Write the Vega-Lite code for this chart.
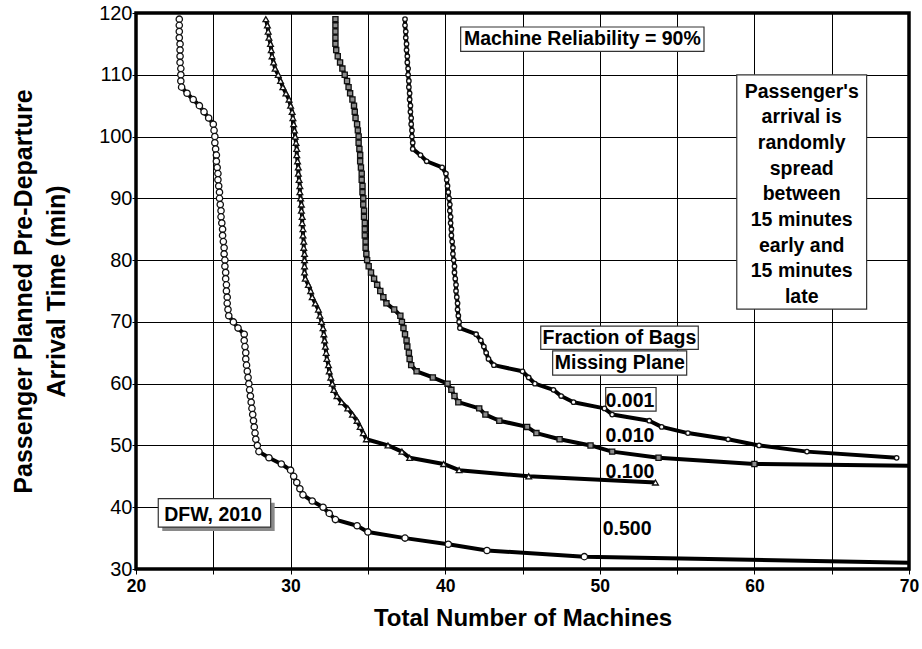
{
  "$schema": "https://vega.github.io/schema/vega-lite/v6.json",
  "autosize": {"type": "none"},
  "padding": {"left": 136, "top": 13, "right": 13, "bottom": 80},
  "width": 773,
  "height": 556,
  "background": "white",
  "config": {
    "font": "Liberation Sans",
    "view": {"stroke": "black", "strokeWidth": 3.5},
    "axis": {"grid": true, "gridColor": "black", "gridOpacity": 1, "gridWidth": 1, "domain": false, "tickColor": "black", "tickSize": 5, "labelColor": "black", "titleColor": "black", "labelFlush": false, "labelOverlap": false}
  },
  "datasets": {
    "curves": [
      {"s":"0.500","x":22.8,"y":119},{"s":"0.500","x":22.8,"y":118},{"s":"0.500","x":22.8,"y":117},{"s":"0.500","x":22.8,"y":116},{"s":"0.500","x":22.85,"y":115},{"s":"0.500","x":22.85,"y":114},{"s":"0.500","x":22.85,"y":113},{"s":"0.500","x":22.85,"y":112},{"s":"0.500","x":22.9,"y":111},{"s":"0.500","x":22.9,"y":110},{"s":"0.500","x":22.9,"y":109},{"s":"0.500","x":22.95,"y":108},{"s":"0.500","x":23.3,"y":107},{"s":"0.500","x":23.7,"y":106},{"s":"0.500","x":24.1,"y":105},{"s":"0.500","x":24.4,"y":104},{"s":"0.500","x":24.7,"y":103},{"s":"0.500","x":25.0,"y":102},{"s":"0.500","x":25.05,"y":101},{"s":"0.500","x":25.1,"y":100},{"s":"0.500","x":25.1,"y":99},{"s":"0.500","x":25.15,"y":98},{"s":"0.500","x":25.2,"y":97},{"s":"0.500","x":25.2,"y":96},{"s":"0.500","x":25.25,"y":95},{"s":"0.500","x":25.3,"y":94},{"s":"0.500","x":25.3,"y":93},{"s":"0.500","x":25.35,"y":92},{"s":"0.500","x":25.4,"y":91},{"s":"0.500","x":25.4,"y":90},{"s":"0.500","x":25.45,"y":89},{"s":"0.500","x":25.5,"y":88},{"s":"0.500","x":25.5,"y":87},{"s":"0.500","x":25.55,"y":86},{"s":"0.500","x":25.6,"y":85},{"s":"0.500","x":25.6,"y":84},{"s":"0.500","x":25.65,"y":83},{"s":"0.500","x":25.7,"y":82},{"s":"0.500","x":25.7,"y":81},{"s":"0.500","x":25.75,"y":80},{"s":"0.500","x":25.75,"y":79},{"s":"0.500","x":25.8,"y":78},{"s":"0.500","x":25.8,"y":77},{"s":"0.500","x":25.85,"y":76},{"s":"0.500","x":25.85,"y":75},{"s":"0.500","x":25.9,"y":74},{"s":"0.500","x":25.9,"y":73},{"s":"0.500","x":25.95,"y":72},{"s":"0.500","x":26.0,"y":71},{"s":"0.500","x":26.3,"y":70},{"s":"0.500","x":26.6,"y":69},{"s":"0.500","x":27.0,"y":68},{"s":"0.500","x":27.0,"y":67},{"s":"0.500","x":27.05,"y":66},{"s":"0.500","x":27.1,"y":65},{"s":"0.500","x":27.1,"y":64},{"s":"0.500","x":27.15,"y":63},{"s":"0.500","x":27.2,"y":62},{"s":"0.500","x":27.25,"y":61},{"s":"0.500","x":27.3,"y":60},{"s":"0.500","x":27.35,"y":59},{"s":"0.500","x":27.4,"y":58},{"s":"0.500","x":27.45,"y":57},{"s":"0.500","x":27.5,"y":56},{"s":"0.500","x":27.55,"y":55},{"s":"0.500","x":27.6,"y":54},{"s":"0.500","x":27.65,"y":53},{"s":"0.500","x":27.7,"y":52},{"s":"0.500","x":27.75,"y":51},{"s":"0.500","x":27.85,"y":50},{"s":"0.500","x":27.95,"y":49},{"s":"0.500","x":28.6,"y":48},{"s":"0.500","x":29.4,"y":47},{"s":"0.500","x":30.0,"y":46},{"s":"0.500","x":30.2,"y":45},{"s":"0.500","x":30.4,"y":44},{"s":"0.500","x":30.6,"y":43},{"s":"0.500","x":30.8,"y":42},{"s":"0.500","x":31.4,"y":41},{"s":"0.500","x":32.1,"y":40},{"s":"0.500","x":32.5,"y":39},{"s":"0.500","x":32.9,"y":38},{"s":"0.500","x":34.3,"y":37},{"s":"0.500","x":35.0,"y":36},{"s":"0.500","x":37.4,"y":35},{"s":"0.500","x":40.2,"y":34},{"s":"0.500","x":42.7,"y":33},{"s":"0.500","x":49.0,"y":32},{"s":"0.500","x":70,"y":31},
      {"s":"0.100","x":28.4,"y":119},{"s":"0.100","x":28.5,"y":118},{"s":"0.100","x":28.55,"y":117},{"s":"0.100","x":28.6,"y":116},{"s":"0.100","x":28.7,"y":115},{"s":"0.100","x":28.75,"y":114},{"s":"0.100","x":28.8,"y":113},{"s":"0.100","x":28.9,"y":112},{"s":"0.100","x":29.0,"y":111},{"s":"0.100","x":29.2,"y":110},{"s":"0.100","x":29.35,"y":109},{"s":"0.100","x":29.5,"y":108},{"s":"0.100","x":29.7,"y":107},{"s":"0.100","x":29.9,"y":106},{"s":"0.100","x":30.0,"y":105},{"s":"0.100","x":30.1,"y":104},{"s":"0.100","x":30.15,"y":103},{"s":"0.100","x":30.2,"y":102},{"s":"0.100","x":30.25,"y":101},{"s":"0.100","x":30.3,"y":100},{"s":"0.100","x":30.35,"y":99},{"s":"0.100","x":30.4,"y":98},{"s":"0.100","x":30.4,"y":97},{"s":"0.100","x":30.45,"y":96},{"s":"0.100","x":30.5,"y":95},{"s":"0.100","x":30.5,"y":94},{"s":"0.100","x":30.55,"y":93},{"s":"0.100","x":30.6,"y":92},{"s":"0.100","x":30.6,"y":91},{"s":"0.100","x":30.65,"y":90},{"s":"0.100","x":30.7,"y":89},{"s":"0.100","x":30.7,"y":88},{"s":"0.100","x":30.75,"y":87},{"s":"0.100","x":30.75,"y":86},{"s":"0.100","x":30.8,"y":85},{"s":"0.100","x":30.8,"y":84},{"s":"0.100","x":30.85,"y":83},{"s":"0.100","x":30.85,"y":82},{"s":"0.100","x":30.9,"y":81},{"s":"0.100","x":30.9,"y":80},{"s":"0.100","x":30.9,"y":79},{"s":"0.100","x":30.9,"y":78},{"s":"0.100","x":30.95,"y":77},{"s":"0.100","x":31.15,"y":76},{"s":"0.100","x":31.3,"y":75},{"s":"0.100","x":31.4,"y":74},{"s":"0.100","x":31.6,"y":73},{"s":"0.100","x":31.8,"y":72},{"s":"0.100","x":31.9,"y":71},{"s":"0.100","x":32.0,"y":70},{"s":"0.100","x":32.1,"y":69},{"s":"0.100","x":32.15,"y":68},{"s":"0.100","x":32.2,"y":67},{"s":"0.100","x":32.25,"y":66},{"s":"0.100","x":32.3,"y":65},{"s":"0.100","x":32.35,"y":64},{"s":"0.100","x":32.45,"y":63},{"s":"0.100","x":32.5,"y":62},{"s":"0.100","x":32.6,"y":61},{"s":"0.100","x":32.7,"y":60},{"s":"0.100","x":32.8,"y":59},{"s":"0.100","x":33.0,"y":58},{"s":"0.100","x":33.3,"y":57},{"s":"0.100","x":33.7,"y":56},{"s":"0.100","x":34.0,"y":55},{"s":"0.100","x":34.3,"y":54},{"s":"0.100","x":34.5,"y":53},{"s":"0.100","x":34.7,"y":52},{"s":"0.100","x":34.9,"y":51},{"s":"0.100","x":36.3,"y":50},{"s":"0.100","x":37.2,"y":49},{"s":"0.100","x":37.7,"y":48},{"s":"0.100","x":39.9,"y":47},{"s":"0.100","x":40.9,"y":46},{"s":"0.100","x":45.4,"y":45},{"s":"0.100","x":53.6,"y":44},
      {"s":"0.010","x":32.9,"y":119},{"s":"0.010","x":32.9,"y":118},{"s":"0.010","x":32.9,"y":117},{"s":"0.010","x":32.9,"y":116},{"s":"0.010","x":32.9,"y":115},{"s":"0.010","x":32.95,"y":114},{"s":"0.010","x":33.05,"y":113},{"s":"0.010","x":33.2,"y":112},{"s":"0.010","x":33.35,"y":111},{"s":"0.010","x":33.5,"y":110},{"s":"0.010","x":33.65,"y":109},{"s":"0.010","x":33.75,"y":108},{"s":"0.010","x":33.85,"y":107},{"s":"0.010","x":34.0,"y":106},{"s":"0.010","x":34.1,"y":105},{"s":"0.010","x":34.15,"y":104},{"s":"0.010","x":34.2,"y":103},{"s":"0.010","x":34.3,"y":102},{"s":"0.010","x":34.35,"y":101},{"s":"0.010","x":34.4,"y":100},{"s":"0.010","x":34.4,"y":99},{"s":"0.010","x":34.45,"y":98},{"s":"0.010","x":34.5,"y":97},{"s":"0.010","x":34.5,"y":96},{"s":"0.010","x":34.55,"y":95},{"s":"0.010","x":34.6,"y":94},{"s":"0.010","x":34.6,"y":93},{"s":"0.010","x":34.65,"y":92},{"s":"0.010","x":34.65,"y":91},{"s":"0.010","x":34.7,"y":90},{"s":"0.010","x":34.7,"y":89},{"s":"0.010","x":34.75,"y":88},{"s":"0.010","x":34.75,"y":87},{"s":"0.010","x":34.8,"y":86},{"s":"0.010","x":34.8,"y":85},{"s":"0.010","x":34.8,"y":84},{"s":"0.010","x":34.85,"y":83},{"s":"0.010","x":34.85,"y":82},{"s":"0.010","x":34.9,"y":81},{"s":"0.010","x":34.95,"y":80},{"s":"0.010","x":35.05,"y":79},{"s":"0.010","x":35.2,"y":78},{"s":"0.010","x":35.4,"y":77},{"s":"0.010","x":35.6,"y":76},{"s":"0.010","x":35.8,"y":75},{"s":"0.010","x":36.0,"y":74},{"s":"0.010","x":36.2,"y":73},{"s":"0.010","x":36.7,"y":72},{"s":"0.010","x":37.1,"y":71},{"s":"0.010","x":37.2,"y":70},{"s":"0.010","x":37.3,"y":69},{"s":"0.010","x":37.4,"y":68},{"s":"0.010","x":37.5,"y":67},{"s":"0.010","x":37.55,"y":66},{"s":"0.010","x":37.65,"y":65},{"s":"0.010","x":37.7,"y":64},{"s":"0.010","x":37.8,"y":63},{"s":"0.010","x":38.15,"y":62},{"s":"0.010","x":39.2,"y":61},{"s":"0.010","x":40.15,"y":60},{"s":"0.010","x":40.4,"y":59},{"s":"0.010","x":40.6,"y":58},{"s":"0.010","x":40.85,"y":57},{"s":"0.010","x":42.2,"y":56},{"s":"0.010","x":42.6,"y":55},{"s":"0.010","x":43.5,"y":54},{"s":"0.010","x":45.3,"y":53},{"s":"0.010","x":45.9,"y":52},{"s":"0.010","x":47.4,"y":51},{"s":"0.010","x":49.4,"y":50},{"s":"0.010","x":50.8,"y":49},{"s":"0.010","x":53.8,"y":48},{"s":"0.010","x":60.0,"y":47},{"s":"0.010","x":70,"y":46.7},
      {"s":"0.001","x":37.4,"y":119},{"s":"0.001","x":37.4,"y":118},{"s":"0.001","x":37.45,"y":117},{"s":"0.001","x":37.45,"y":116},{"s":"0.001","x":37.5,"y":115},{"s":"0.001","x":37.5,"y":114},{"s":"0.001","x":37.55,"y":113},{"s":"0.001","x":37.55,"y":112},{"s":"0.001","x":37.6,"y":111},{"s":"0.001","x":37.6,"y":110},{"s":"0.001","x":37.65,"y":109},{"s":"0.001","x":37.65,"y":108},{"s":"0.001","x":37.7,"y":107},{"s":"0.001","x":37.7,"y":106},{"s":"0.001","x":37.75,"y":105},{"s":"0.001","x":37.75,"y":104},{"s":"0.001","x":37.8,"y":103},{"s":"0.001","x":37.8,"y":102},{"s":"0.001","x":37.85,"y":101},{"s":"0.001","x":37.85,"y":100},{"s":"0.001","x":37.9,"y":99},{"s":"0.001","x":37.9,"y":98},{"s":"0.001","x":38.4,"y":97},{"s":"0.001","x":38.8,"y":96},{"s":"0.001","x":39.8,"y":95},{"s":"0.001","x":40.05,"y":94},{"s":"0.001","x":40.1,"y":93},{"s":"0.001","x":40.15,"y":92},{"s":"0.001","x":40.2,"y":91},{"s":"0.001","x":40.25,"y":90},{"s":"0.001","x":40.3,"y":89},{"s":"0.001","x":40.3,"y":88},{"s":"0.001","x":40.35,"y":87},{"s":"0.001","x":40.35,"y":86},{"s":"0.001","x":40.4,"y":85},{"s":"0.001","x":40.4,"y":84},{"s":"0.001","x":40.45,"y":83},{"s":"0.001","x":40.5,"y":82},{"s":"0.001","x":40.5,"y":81},{"s":"0.001","x":40.55,"y":80},{"s":"0.001","x":40.6,"y":79},{"s":"0.001","x":40.6,"y":78},{"s":"0.001","x":40.65,"y":77},{"s":"0.001","x":40.7,"y":76},{"s":"0.001","x":40.7,"y":75},{"s":"0.001","x":40.75,"y":74},{"s":"0.001","x":40.8,"y":73},{"s":"0.001","x":40.8,"y":72},{"s":"0.001","x":40.85,"y":71},{"s":"0.001","x":40.9,"y":70},{"s":"0.001","x":40.95,"y":69},{"s":"0.001","x":42.0,"y":68},{"s":"0.001","x":42.3,"y":67},{"s":"0.001","x":42.5,"y":66},{"s":"0.001","x":42.65,"y":65},{"s":"0.001","x":42.8,"y":64},{"s":"0.001","x":43.15,"y":63},{"s":"0.001","x":45.0,"y":62},{"s":"0.001","x":45.4,"y":61},{"s":"0.001","x":45.8,"y":60},{"s":"0.001","x":47.0,"y":59},{"s":"0.001","x":47.5,"y":58},{"s":"0.001","x":48.3,"y":57},{"s":"0.001","x":50.3,"y":56},{"s":"0.001","x":50.8,"y":55},{"s":"0.001","x":53.2,"y":54},{"s":"0.001","x":54.0,"y":53},{"s":"0.001","x":55.7,"y":52},{"s":"0.001","x":58.3,"y":51},{"s":"0.001","x":60.3,"y":50},{"s":"0.001","x":63.4,"y":49},{"s":"0.001","x":69.2,"y":48}
    ],
    "boxes": [
      {"name":"machine","x":41.0,"x2":56.74,"y":117.73,"y2":113.78,"shadow":false},
      {"name":"passenger","x":58.86,"x2":67.26,"y":110.0,"y2":72.07,"shadow":false},
      {"name":"fraction","x":46.18,"x2":56.37,"y":69.32,"y2":65.55,"shadow":false},
      {"name":"missing","x":46.95,"x2":55.62,"y":65.32,"y2":61.38,"shadow":false},
      {"name":"p001","x":50.38,"x2":53.64,"y":59.38,"y2":55.54,"shadow":false},
      {"name":"dfw","x":21.44,"x2":28.71,"y":41.39,"y2":36.79,"shadow":true}
    ],
    "labels": [
      {"text":"Machine Reliability = 90%","x":48.87,"y":115.72},
      {"text":"Passenger's","x":63.06,"y":107.29},
      {"text":"arrival is","x":63.06,"y":103.14},
      {"text":"randomly","x":63.06,"y":98.98},
      {"text":"spread","x":63.06,"y":94.81},
      {"text":"between","x":63.06,"y":90.66},
      {"text":"15 minutes","x":63.06,"y":86.5},
      {"text":"early and","x":63.06,"y":82.33},
      {"text":"15 minutes","x":63.06,"y":78.18},
      {"text":"late","x":63.06,"y":74.02},
      {"text":"Fraction of Bags","x":51.27,"y":67.37},
      {"text":"Missing Plane","x":51.29,"y":63.32},
      {"text":"0.001","x":51.95,"y":57.25},
      {"text":"0.010","x":51.95,"y":51.57},
      {"text":"0.100","x":51.95,"y":45.66},
      {"text":"0.500","x":51.77,"y":36.48},
      {"text":"DFW, 2010","x":24.98,"y":38.82}
    ]
  },
  "layer": [
    {
      "data": {"name": "boxes"},
      "transform": [{"filter": "datum.shadow"}],
      "mark": {"type": "rect", "fill": "#8a8a8a", "xOffset": 4, "x2Offset": 4, "yOffset": 4, "y2Offset": 4},
      "encoding": {
        "x": {"field": "x", "type": "quantitative", "scale": {"domain": [20, 70], "nice": false, "zero": false}},
        "x2": {"field": "x2"},
        "y": {"field": "y", "type": "quantitative", "scale": {"domain": [30, 120], "nice": false, "zero": false}},
        "y2": {"field": "y2"}
      }
    },
    {
      "data": {"name": "boxes"},
      "mark": {"type": "rect", "fill": "white", "stroke": "#333333", "strokeWidth": 1.2},
      "encoding": {
        "x": {"field": "x", "type": "quantitative"},
        "x2": {"field": "x2"},
        "y": {"field": "y", "type": "quantitative"},
        "y2": {"field": "y2"}
      }
    },
    {
      "data": {"name": "curves"},
      "mark": {"type": "line", "stroke": "black", "strokeWidth": 4, "clip": true, "strokeJoin": "round"},
      "encoding": {
        "x": {"field": "x", "type": "quantitative",
          "axis": {"values": [20,25,30,35,40,45,50,55,60,65,70], "labelExpr": "datum.value % 10 === 0 ? datum.label : ''", "title": "Total Number of Machines", "labelFontSize": 17.5, "labelFontWeight": "bold", "labelPadding": 3, "titleFontSize": 24, "titleFontWeight": "bold", "titleBaseline": "alphabetic", "titleY": 56}},
        "y": {"field": "y", "type": "quantitative",
          "axis": {"values": [30,40,50,60,70,80,90,100,110,120], "title": ["Passenger Planned Pre-Departure", "Arrival Time (min)"], "labelFontSize": 20, "labelFontWeight": "normal", "labelPadding": 0, "tickSize": 4, "titleFontSize": 25, "titleFontWeight": "bold", "titleLineHeight": 33, "titleBaseline": "alphabetic", "titleX": -105, "titleY": 278, "titleAngle": -90}},
        "detail": {"field": "s"},
        "order": {"field": "y", "sort": "descending"}
      }
    },
    {
      "data": {"name": "curves"},
      "transform": [{"filter": "datum.x < 69.9"}],
      "mark": {"type": "point", "filled": true, "stroke": "#111111", "strokeWidth": 1.3, "opacity": 1},
      "encoding": {
        "x": {"field": "x", "type": "quantitative"},
        "y": {"field": "y", "type": "quantitative"},
        "shape": {"field": "s", "type": "nominal", "scale": {"domain": ["0.001","0.010","0.100","0.500"], "range": ["circle","square","triangle-up","circle"]}, "legend": null},
        "fill": {"field": "s", "type": "nominal", "scale": {"domain": ["0.001","0.010","0.100","0.500"], "range": ["white","#8c8c8c","white","white"]}, "legend": null},
        "size": {"field": "s", "type": "nominal", "scale": {"domain": ["0.001","0.010","0.100","0.500"], "range": [20, 40, 18, 22]}, "legend": null}
      }
    },
    {
      "data": {"name": "labels"},
      "mark": {"type": "text", "font": "Liberation Sans", "fontWeight": "bold", "fontSize": 19.5, "align": "center", "baseline": "middle", "color": "black"},
      "encoding": {
        "x": {"field": "x", "type": "quantitative"},
        "y": {"field": "y", "type": "quantitative"},
        "text": {"field": "text"}
      }
    }
  ]
}
